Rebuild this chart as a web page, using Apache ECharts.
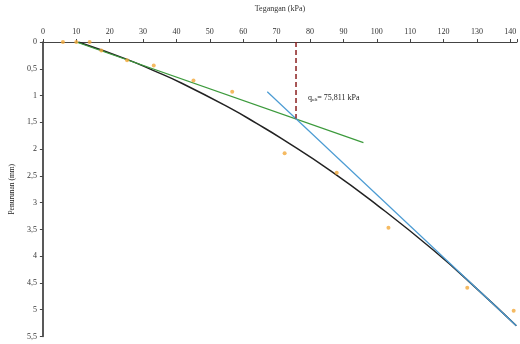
<!DOCTYPE html>
<html>
<head>
<meta charset="utf-8">
<title>Tegangan - Penurunan</title>
<script src="https://cdn.jsdelivr.net/npm/echarts@6/dist/echarts.min.js"></script>
<style>
  html, body { margin: 0; padding: 0; background: #fff; }
  #main { width: 520px; height: 344px; }
</style>
</head>
<body>
<div id="main"></div>
<script>
// measured points (kPa, mm)
var tegangan  = [6, 10, 14, 17.5, 25.2, 33.2, 45.1, 56.7, 72.4, 88.0, 103.5, 127.1, 141];
var penurunan = [0, 0, 0, 0.16, 0.34, 0.44, 0.72, 0.93, 2.08, 2.44, 3.47, 4.59, 5.02];

// black trend curve
var trendX = [10.6, 25, 33, 41.6, 56.5, 64, 71.4, 86.3, 100.2, 117, 130, 141.8];
var trendY = [0, 0.32, 0.53, 0.77, 1.25, 1.52, 1.8, 2.41, 3.05, 3.89, 4.61, 5.3];

// tangent lines
var greenX = [10, 96];
var greenY = [0, 1.88];
var blueX = [67.2, 141.8];
var blueY = [0.93, 5.3];

// ultimate load
var qult = 75.811;
var qultY = [0, 1.43];
var qultLabel = '= 75,811 kPa';

function pairs(xs, ys) {
  return xs.map(function (x, i) { return [x, ys[i]]; });
}

var font = 'Liberation Serif';
var myChart = echarts.init(document.getElementById('main'));

myChart.setOption({
  animation: false,
  backgroundColor: '#fff',
  grid: { left: 40, right: 3, top: 37, bottom: 7.5 },
  xAxis: {
    type: 'value',
    position: 'top',
    min: 0,
    max: 142,
    interval: 10,
    name: 'Tegangan (kPa)',
    nameLocation: 'middle',
    nameGap: 29,
    nameTextStyle: { fontFamily: font, fontSize: 8, color: '#333' },
    axisLine: { show: true, lineStyle: { color: '#444', width: 1 } },
    axisTick: { show: true, length: 3, lineStyle: { color: '#444' } },
    axisLabel: {
      fontFamily: font, fontSize: 8, color: '#333', margin: 6,
      formatter: function (v) { return v % 10 === 0 ? String(v) : ''; }
    },
    splitLine: { show: false }
  },
  yAxis: {
    type: 'value',
    inverse: true,
    min: 0,
    max: 5.5,
    interval: 0.5,
    name: 'Penurunan (mm)',
    nameLocation: 'middle',
    nameRotate: 90,
    nameGap: 23,
    nameTextStyle: { fontFamily: font, fontSize: 7.5, color: '#222' },
    axisLine: { show: true, lineStyle: { color: '#222', width: 1.5 } },
    axisTick: { show: true, length: 3, lineStyle: { color: '#444' } },
    axisLabel: {
      fontFamily: font, fontSize: 8, color: '#333', margin: 6,
      formatter: function (v) { return String(v).replace('.', ','); }
    },
    splitLine: { show: false }
  },
  series: [
    {
      name: 'trend',
      type: 'line',
      smooth: true,
      symbol: 'none',
      data: pairs(trendX, trendY),
      lineStyle: { color: '#222', width: 1.5 },
      z: 3
    },
    {
      name: 'green',
      type: 'line',
      symbol: 'none',
      data: pairs(greenX, greenY),
      lineStyle: { color: '#3c9a3c', width: 1.2 },
      z: 3
    },
    {
      name: 'blue',
      type: 'line',
      symbol: 'none',
      data: pairs(blueX, blueY),
      lineStyle: { color: '#4b9bd3', width: 1.2 },
      z: 3
    },
    {
      name: 'qult',
      type: 'line',
      symbol: 'none',
      data: [[qult, qultY[0]], [qult, qultY[1]]],
      lineStyle: { color: '#8b1f1f', width: 1.5, type: [5, 3] },
      markPoint: {
        symbol: 'circle',
        symbolSize: 0,
        data: [{ coord: [qult, 1.04] }],
        label: {
          show: true,
          position: 'right',
          distance: 12,
          formatter: '{q|q}{s|ult}{t|' + qultLabel + '}',
          rich: {
            q: { fontFamily: font, fontSize: 8, color: '#222' },
            s: { fontFamily: font, fontSize: 5, color: '#222', padding: [5, 0, 0, 0] },
            t: { fontFamily: font, fontSize: 8, color: '#222' }
          }
        }
      },
      z: 4
    },
    {
      name: 'data',
      type: 'scatter',
      symbol: 'circle',
      symbolSize: 4,
      data: pairs(tegangan, penurunan),
      itemStyle: { color: '#f2a93b' },
      z: 5
    }
  ]
});
</script>
</body>
</html>
